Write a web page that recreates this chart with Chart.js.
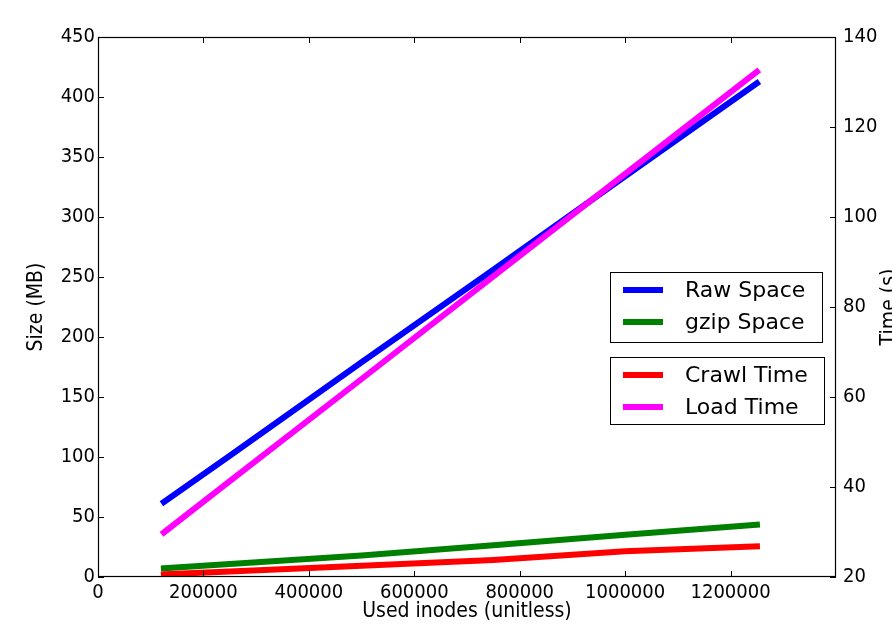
<!DOCTYPE html>
<html>
<head>
<meta charset="utf-8">
<script src="https://cdn.jsdelivr.net/npm/chart.js@4.4.0/dist/chart.umd.min.js"></script>
<style>
  body { margin: 0; background: #fff; }
  #wrap { width: 892px; height: 629px; }
</style>
</head>
<body>
<div id="wrap"><canvas id="inode-chart" width="892" height="629"></canvas></div>
<script>
const inodes = [125000, 250000, 500000, 750000, 1000000, 1250000];
const rawSpace = [62.5, 101, 179, 256, 334, 411.5];
const gzipSpace = [7.2, 10.8, 18.0, 26.5, 35.2, 43.5];
const crawlTime = [20.6, 21.2, 22.5, 23.8, 25.7, 26.8];
const loadTime = [29.9, 41.3, 64.0, 86.8, 109.6, 132.3];
const xTicks = [0, 200000, 400000, 600000, 800000, 1000000, 1200000];

const tickFont = { family: "'DejaVu Sans Condensed', 'DejaVu Sans', sans-serif", size: 20 };
const titleFont = "21px 'DejaVu Sans Condensed', 'DejaVu Sans', sans-serif";
const legendFont = "22px 'DejaVu Sans', sans-serif";

function pts(ys) {
  return inodes.map((x, i) => ({ x: x, y: ys[i] }));
}

function series(label, ys, color, axis, order) {
  return {
    label: label,
    data: pts(ys),
    yAxisID: axis,
    borderColor: color,
    backgroundColor: color,
    borderWidth: 6,
    borderCapStyle: "square",
    borderJoinStyle: "round",
    pointRadius: 0,
    tension: 0,
    fill: false,
    order: order,
  };
}

// matplotlib-style frame, inward ticks, split legend and axis titles
const decor = {
  id: "decor",
  afterDraw(chart) {
    const c = chart.ctx;
    const a = chart.chartArea;
    const sx = chart.scales.x, sy = chart.scales.y, sy1 = chart.scales.y1;
    c.save();
    c.strokeStyle = "#000";
    c.lineWidth = 1.2;
    c.strokeRect(a.left + 0.5, a.top + 0.5, a.right - a.left - 1, a.bottom - a.top - 1);

    c.lineWidth = 1;
    c.beginPath();
    sx.ticks.forEach(t => {
      const p = Math.round(sx.getPixelForValue(t.value)) + 0.5;
      c.moveTo(p, a.bottom); c.lineTo(p, a.bottom - 6);
      c.moveTo(p, a.top); c.lineTo(p, a.top + 6);
    });
    sy.ticks.forEach(t => {
      const p = Math.round(sy.getPixelForValue(t.value)) + 0.5;
      c.moveTo(a.left, p); c.lineTo(a.left + 6, p);
    });
    sy1.ticks.forEach(t => {
      const p = Math.round(sy1.getPixelForValue(t.value)) + 0.5;
      c.moveTo(a.right, p); c.lineTo(a.right - 6, p);
    });
    c.stroke();

    // axis titles
    c.fillStyle = "#000";
    c.font = titleFont;
    const midY = (a.top + a.bottom) / 2;
    c.textAlign = "center";
    c.textBaseline = "alphabetic";
    c.fillText("Used inodes (unitless)", (a.left + a.right) / 2, 617);
    c.save();
    c.translate(26, midY);
    c.rotate(-Math.PI / 2);
    c.textBaseline = "top";
    c.fillText("Size (MB)", 0, 0);
    c.restore();
    c.save();
    c.translate(879, midY);
    c.rotate(-Math.PI / 2);
    c.textBaseline = "top";
    c.fillText("Time (s)", 0, 0);
    c.restore();

    // two legend boxes, one per axis
    const ds = chart.data.datasets;
    const boxes = [
      { x: 610.5, y: 272.5, w: 212, h: 70, items: [0, 1], rows: [290, 322] },
      { x: 610.5, y: 357.5, w: 214, h: 67, items: [2, 3], rows: [375, 407] },
    ];
    c.font = legendFont;
    c.textAlign = "left";
    c.textBaseline = "middle";
    boxes.forEach(b => {
      c.fillStyle = "#fff";
      c.fillRect(b.x, b.y, b.w, b.h);
      c.strokeStyle = "#000";
      c.lineWidth = 1;
      c.strokeRect(b.x, b.y, b.w, b.h);
      b.items.forEach((k, i) => {
        c.strokeStyle = ds[k].borderColor;
        c.lineWidth = 6;
        c.beginPath();
        c.moveTo(623, b.rows[i]);
        c.lineTo(663, b.rows[i]);
        c.stroke();
        c.fillStyle = "#000";
        c.fillText(ds[k].label, 685, b.rows[i] + 1);
      });
    });
    c.restore();
  },
};

new Chart(document.getElementById("inode-chart"), {
  type: "line",
  data: {
    datasets: [
      series("Raw Space", rawSpace, "#0000ff", "y", 3),
      series("gzip Space", gzipSpace, "#008000", "y", 2),
      series("Crawl Time", crawlTime, "#ff0000", "y1", 1),
      series("Load Time", loadTime, "#ff00ff", "y1", 0),
    ],
  },
  options: {
    responsive: false,
    animation: false,
    layout: { padding: { top: 37, left: 0, right: 0, bottom: 0 } },
    scales: {
      x: {
        type: "linear",
        min: 0,
        max: 1400000,
        afterBuildTicks: s => { s.ticks = xTicks.map(v => ({ value: v })); },
        afterFit: s => { s.height = 52; },
        grid: { display: false, drawTicks: false },
        border: { display: false },
        ticks: {
          autoSkip: false,
          maxRotation: 0,
          padding: 4,
          color: "#000",
          font: tickFont,
          callback: v => String(v),
        },
      },
      y: {
        position: "left",
        min: 0,
        max: 450,
        afterFit: s => { s.width = 98; },
        grid: { display: false, drawTicks: false },
        border: { display: false },
        ticks: { stepSize: 50, padding: 3, color: "#000", font: tickFont },
      },
      y1: {
        position: "right",
        min: 20,
        max: 140,
        afterFit: s => { s.width = 56; },
        grid: { display: false, drawTicks: false },
        border: { display: false },
        ticks: { stepSize: 20, padding: 7, color: "#000", font: tickFont },
      },
    },
    plugins: {
      legend: { display: false },
      tooltip: { enabled: false },
    },
  },
  plugins: [decor],
});
</script>
</body>
</html>
